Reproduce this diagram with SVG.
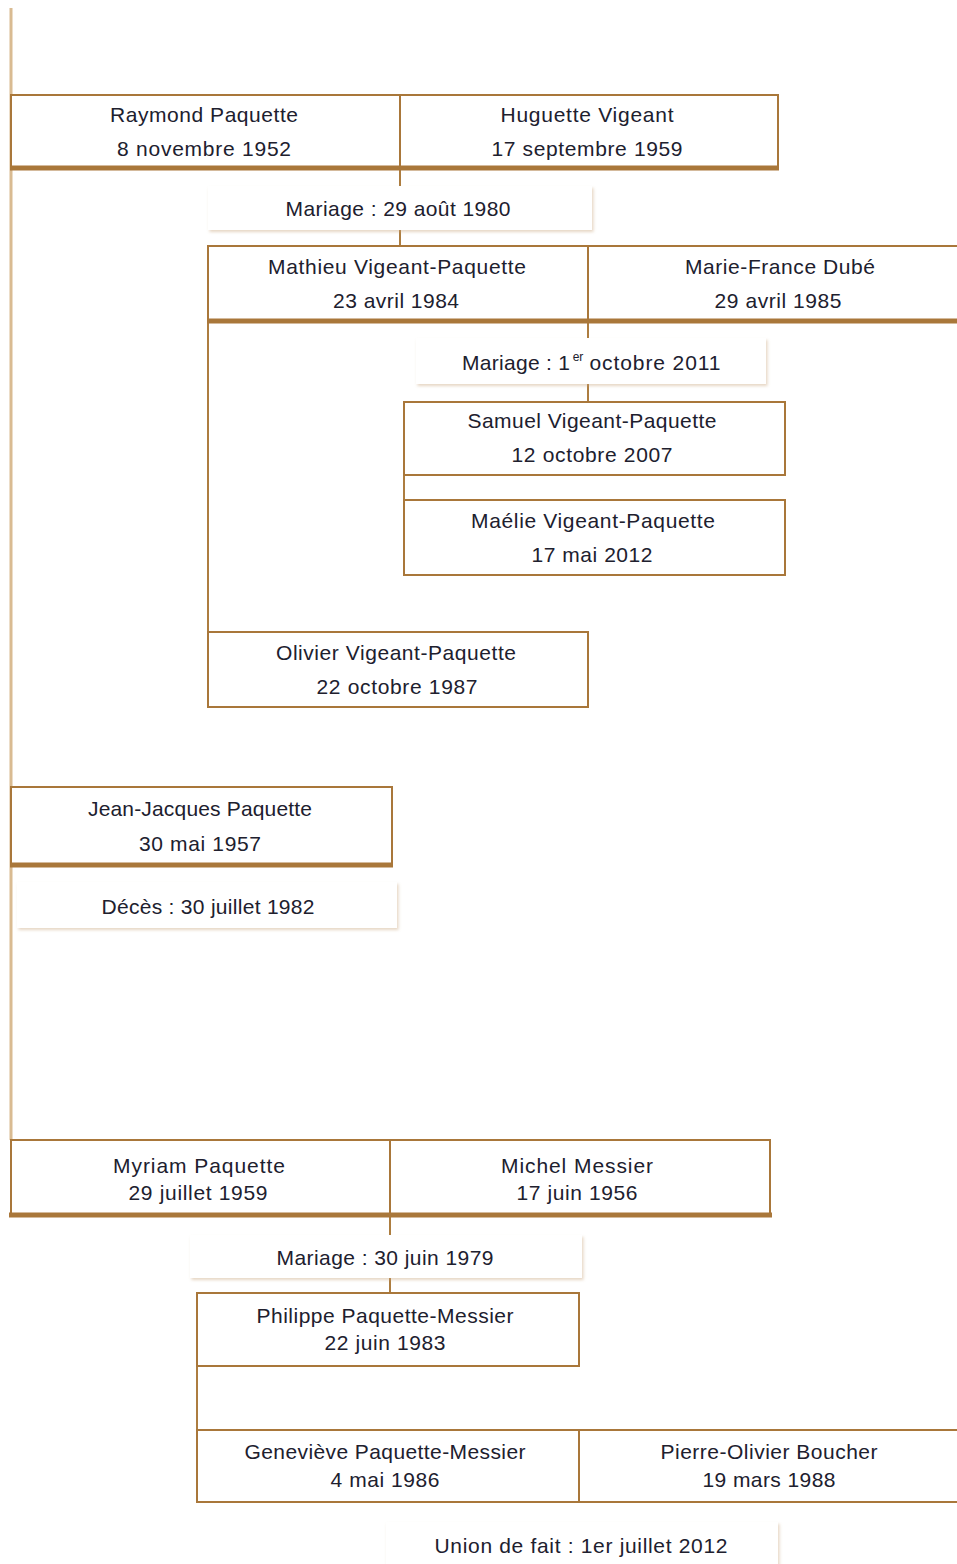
<svg xmlns="http://www.w3.org/2000/svg" width="957" height="1564" viewBox="0 0 957 1564">
<defs>
<filter id="sh" x="-5%" y="-20%" width="110%" height="150%">
<feDropShadow dx="1.5" dy="2" stdDeviation="1.5" flood-color="#c9a57a" flood-opacity="0.45"/>
</filter>
<style>
.box{fill:#ffffff;stroke:#a9773a;stroke-width:2}
.thick{stroke:#a9773a;stroke-width:5;fill:none}
.div{stroke:#a9773a;stroke-width:2;fill:none}
.conn{stroke:#ad7d40;stroke-width:2;fill:none}
.trunk{stroke:#d9bb92;stroke-width:3;fill:none}
.lbl{fill:#ffffff;filter:url(#sh)}
text{font-family:"Liberation Sans",Arial,sans-serif;font-size:21px;fill:#20202e;text-anchor:middle}
</style>
</defs>
<rect width="957" height="1564" fill="#ffffff"/>

<g id="connectors">
<line class="trunk" x1="11" y1="8" x2="11" y2="1140"/>
<line class="conn" x1="400" y1="170" x2="400" y2="246"/>
<line class="conn" x1="208" y1="323" x2="208" y2="632"/>
<line class="conn" x1="588" y1="323" x2="588" y2="402"/>
<line class="conn" x1="404" y1="475" x2="404" y2="500"/>
<line class="conn" x1="390" y1="1216" x2="390" y2="1293"/>
<line class="conn" x1="197" y1="1366" x2="197" y2="1430"/>
</g>

<g id="couple-raymond-huguette">
<rect class="box" x="11" y="95" width="767" height="73"/>
<line class="div" x1="400" y1="95" x2="400" y2="168"/>
<line class="thick" x1="10" y1="168" x2="779" y2="168"/>
<text x="204" y="122" textLength="188" lengthAdjust="spacing">Raymond Paquette</text>
<text x="204" y="156" textLength="174" lengthAdjust="spacing">8 novembre 1952</text>
<text x="587" y="122" textLength="173" lengthAdjust="spacing">Huguette Vigeant</text>
<text x="587" y="156" textLength="191" lengthAdjust="spacing">17 septembre 1959</text>
</g>

<g id="mariage-1980">
<rect class="lbl" x="208" y="186" width="384" height="44"/>
<text x="398" y="216" textLength="225" lengthAdjust="spacing">Mariage : 29 août 1980</text>
</g>

<g id="couple-mathieu-mariefrance">
<rect class="box" x="208" y="246" width="760" height="75"/>
<line class="div" x1="588" y1="246" x2="588" y2="321"/>
<line class="thick" x1="207" y1="321" x2="957" y2="321"/>
<text x="397" y="274" textLength="258" lengthAdjust="spacing">Mathieu Vigeant-Paquette</text>
<text x="396" y="308" textLength="126" lengthAdjust="spacing">23 avril 1984</text>
<text x="780" y="274" textLength="190" lengthAdjust="spacing">Marie-France Dubé</text>
<text x="778" y="308" textLength="127" lengthAdjust="spacing">29 avril 1985</text>
</g>

<g id="mariage-2011">
<rect class="lbl" x="416" y="338" width="350" height="46"/>
<text x="516" y="370" textLength="108" lengthAdjust="spacing">Mariage : 1</text>
<text x="578" y="361" style="font-size:12px">er</text>
<text x="655" y="370" textLength="131" lengthAdjust="spacing">octobre 2011</text>
</g>

<g id="samuel">
<rect class="box" x="404" y="402" width="381" height="73"/>
<text x="592" y="428" textLength="249" lengthAdjust="spacing">Samuel Vigeant-Paquette</text>
<text x="592" y="462" textLength="161" lengthAdjust="spacing">12 octobre 2007</text>
</g>

<g id="maelie">
<rect class="box" x="404" y="500" width="381" height="75"/>
<text x="593" y="528" textLength="244" lengthAdjust="spacing">Maélie Vigeant-Paquette</text>
<text x="592" y="562" textLength="121" lengthAdjust="spacing">17 mai 2012</text>
</g>

<g id="olivier">
<rect class="box" x="208" y="632" width="380" height="75"/>
<text x="396" y="660" textLength="240" lengthAdjust="spacing">Olivier Vigeant-Paquette</text>
<text x="397" y="694" textLength="161" lengthAdjust="spacing">22 octobre 1987</text>
</g>

<g id="jean-jacques">
<rect class="box" x="11" y="787" width="381" height="77"/>
<line class="thick" x1="10" y1="865" x2="393" y2="865" stroke-width="6"/>
<text x="200" y="816" textLength="224" lengthAdjust="spacing">Jean-Jacques Paquette</text>
<text x="200" y="851" textLength="122" lengthAdjust="spacing">30 mai 1957</text>
</g>

<g id="deces-1982">
<rect class="lbl" x="17" y="882" width="380" height="46"/>
<text x="208" y="914" textLength="213" lengthAdjust="spacing">Décès : 30 juillet 1982</text>
</g>

<g id="couple-myriam-michel">
<rect class="box" x="11" y="1140" width="759" height="75" stroke-width="2.5"/>
<line class="div" x1="390" y1="1140" x2="390" y2="1215"/>
<line class="thick" x1="9" y1="1215" x2="772" y2="1215"/>
<text x="199" y="1173" textLength="172" lengthAdjust="spacing">Myriam Paquette</text>
<text x="198" y="1200" textLength="139" lengthAdjust="spacing">29 juillet 1959</text>
<text x="577" y="1173" textLength="152" lengthAdjust="spacing">Michel Messier</text>
<text x="577" y="1200" textLength="121" lengthAdjust="spacing">17 juin 1956</text>
</g>

<g id="mariage-1979">
<rect class="lbl" x="190" y="1235" width="392" height="43"/>
<text x="385" y="1265" textLength="217" lengthAdjust="spacing">Mariage : 30 juin 1979</text>
</g>

<g id="philippe">
<rect class="box" x="197" y="1293" width="382" height="73"/>
<text x="385" y="1323" textLength="257" lengthAdjust="spacing">Philippe Paquette-Messier</text>
<text x="385" y="1350" textLength="121" lengthAdjust="spacing">22 juin 1983</text>
</g>

<g id="couple-genevieve-pierreolivier">
<rect class="box" x="197" y="1430" width="770" height="72"/>
<line class="div" x1="579" y1="1430" x2="579" y2="1502"/>
<text x="385" y="1459" textLength="281" lengthAdjust="spacing">Geneviève Paquette-Messier</text>
<text x="385" y="1487" textLength="109" lengthAdjust="spacing">4 mai 1986</text>
<text x="769" y="1459" textLength="217" lengthAdjust="spacing">Pierre-Olivier Boucher</text>
<text x="769" y="1487" textLength="133" lengthAdjust="spacing">19 mars 1988</text>
</g>

<g id="union-2012">
<rect class="lbl" x="386" y="1522" width="392" height="48"/>
<text x="581" y="1553" textLength="293" lengthAdjust="spacing">Union de fait : 1er juillet 2012</text>
</g>
</svg>
